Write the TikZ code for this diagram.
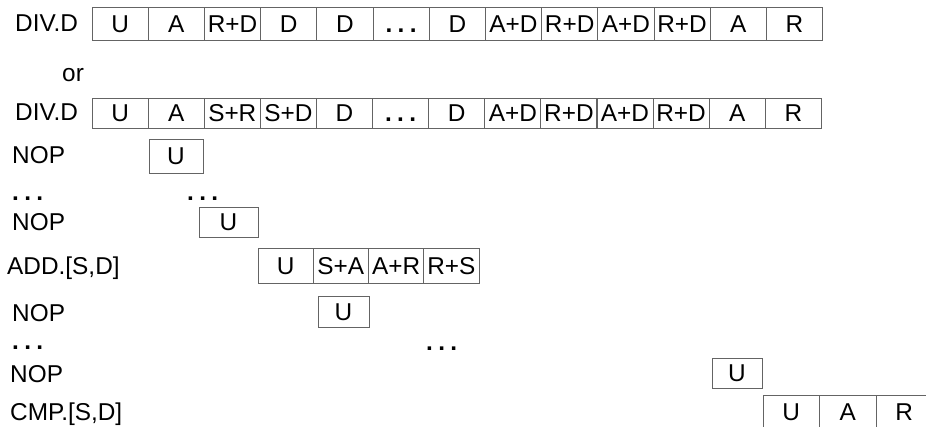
\documentclass[tikz,border=0pt]{standalone}
\usepackage{fontspec}
\setmainfont{Liberation Sans}
\usepackage{xcolor}
\usepackage{tikz}
\usetikzlibrary{positioning}

\definecolor{cellgray}{RGB}{100,100,100}
\newcommand{\gapdots}{\textbf{.\kern4.5pt.\kern4.5pt.}}
\tikzset{
  cell/.style={
    rectangle, draw=cellgray, line width=0.8pt, minimum width=1.686cm,
    minimum height=0.99cm, inner sep=0pt, text centered,
    text height=14.8pt, text depth=0pt, font=\fontsize{20.8}{24}\selectfont
  },
  oplabel/.style={anchor=base west, inner sep=0pt, font=\fontsize{20.8}{24}\selectfont}
}

\begin{document}
\begin{tikzpicture}[x=0.03cm, y=-0.03cm]
    \useasboundingbox (0,0) rectangle (926,427);
    \clip (0,0) rectangle (926,427);

    % op names
    \node[oplabel] (div1) at (15,32)  {DIV.D};
    \node[oplabel] (or)   at (62,82)  {or};
    \node[oplabel] (div2) at (15,121) {DIV.D};
    \node[oplabel] (nop1) at (12,164) {NOP};
    \node[oplabel] (dl1)  at (12,201) {\gapdots};
    \node[oplabel] (nop2) at (12,230) {NOP};
    \node[oplabel] (add)  at (7,275)  {ADD.[S,D]};
    \node[oplabel] (nop3) at (12,321) {NOP};
    \node[oplabel] (dl2)  at (12,349) {\gapdots};
    \node[oplabel] (nop4) at (10,382) {NOP};
    \node[oplabel] (cmp)  at (10,420) {CMP.[S,D]};

    % pipeline stages
    \foreach \txt [count=\i from 0] in {U, A, R+D, D, D, \gapdots, D, A+D, R+D, A+D, R+D, A, R}
      \node[cell] (ra-\i) at ({120.1+56.2*\i},23.5) {\txt};
    \foreach \txt [count=\i from 0] in {U, A, S+R, S+D, D, \gapdots, D, A+D, R+D, A+D, R+D, A, R}
      \node[cell, minimum height=0.9cm] (rb-\i) at ({120.1+56.1*\i},113) {\txt};

    \node[cell, minimum width=1.62cm, minimum height=1.02cm] (u1) at (176,156) {U};
    \node[oplabel] (dm1) at (187,201) {\gapdots};
    \node[cell, minimum width=1.77cm, minimum height=0.9cm] (u2) at (228.5,222) {U};

    \foreach \txt [count=\i from 0] in {U, S+A, A+R, R+S}
      \node[cell, minimum width=1.6575cm, minimum height=1.05cm] (rc-\i) at ({285.6+55.25*\i},265.5) {\txt};

    \node[cell, minimum width=1.53cm, minimum height=0.93cm] (u3) at (343.5,311.5) {U};
    \node[oplabel] (dm2) at (426,350) {\gapdots};
    \node[cell, minimum width=1.5cm, minimum height=0.9cm] (u4) at (737,373) {U};

    \foreach \txt [count=\i from 0] in {U, A, R}
      \node[cell, minimum width=1.695cm] (rd-\i) at ({791.25+56.5*\i},411.5) {\txt};
  \end{tikzpicture}
\end{document}
